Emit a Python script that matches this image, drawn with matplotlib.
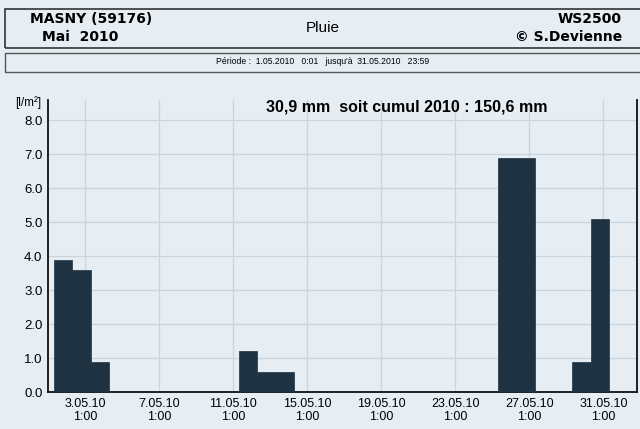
import numpy as np
import matplotlib
matplotlib.use('Agg')
from matplotlib import pyplot as plt
from matplotlib.patches import Rectangle

# daily rain, May 2010
days = [1, 2, 3, 11, 12, 13, 25, 26, 29, 30]
rain = [3.9, 3.6, 0.9, 1.2, 0.6, 0.6, 6.9, 6.9, 0.9, 5.1]
tick_days = [3, 7, 11, 15, 19, 23, 27, 31]
tick_labels = ['%d.05.10\n1:00' % d for d in tick_days]
y_ticks = [0, 1, 2, 3, 4, 5, 6, 7, 8]

bg = '#e6eef4'
bar_col = '#1e3242'
grid_col = '#c9d5de'

plt.rcParams['font.family'] = ['Liberation Sans', 'DejaVu Sans']

fig = plt.figure(figsize=(6.4, 4.29), dpi=100, facecolor=bg)
ax = fig.add_axes([0.075, 0.086, 0.92, 0.681])
ax.set_facecolor(bg)

ax.bar([d + 0.3 for d in days], rain, width=1.0, align='edge',
       color=bar_col, edgecolor=bar_col, linewidth=0.5, zorder=3)

ax.set_xlim(1.0, 32.8)
ax.set_ylim(0, 8.6)
ax.set_xticks(tick_days)
ax.set_xticklabels(tick_labels, fontsize=9)
ax.set_yticks(y_ticks)
ax.set_yticklabels(['%.1f' % v for v in y_ticks], fontsize=9.5)
ax.tick_params(axis='both', length=0, pad=4)
ax.grid(True, color=grid_col, linewidth=0.9, zorder=0)
ax.spines['top'].set_visible(False)
for s in ['left', 'bottom', 'right']:
    ax.spines[s].set_color('#111111')
    ax.spines[s].set_linewidth(1.3)

fig.text(0.023, 0.762, '[l/m²]', fontsize=8.5, ha='left', va='center')
fig.text(407 / 640, 0.751, '30,9 mm  soit cumul 2010 : 150,6 mm',
         fontsize=11.5, fontweight='bold', ha='center', va='center')

# header boxes
fig.patches.append(Rectangle((5 / 640, 1 - 48 / 429), 1.0, 38.5 / 429,
                             transform=fig.transFigure, fill=False,
                             edgecolor='#333333', linewidth=1.2))
fig.patches.append(Rectangle((5 / 640, 1 - 72 / 429), 1.0, 19 / 429,
                             transform=fig.transFigure, fill=False,
                             edgecolor='#555555', linewidth=1.0))

fig.text(30 / 640, 1 - 19 / 429, 'MASNY (59176)', fontsize=10,
         fontweight='bold', ha='left', va='center', family='DejaVu Sans')
fig.text(42 / 640, 1 - 37 / 429, 'Mai  2010', fontsize=10,
         fontweight='bold', ha='left', va='center', family='DejaVu Sans')
fig.text(323 / 640, 1 - 28 / 429, 'Pluie', fontsize=11,
         ha='center', va='center')
fig.text(622 / 640, 1 - 19 / 429, 'WS2500', fontsize=10,
         fontweight='bold', ha='right', va='center', family='DejaVu Sans')
fig.text(622 / 640, 1 - 37 / 429, '© S.Devienne', fontsize=10,
         fontweight='bold', ha='right', va='center', family='DejaVu Sans')
fig.text(323 / 640, 1 - 62 / 429,
         'Période :  1.05.2010   0:01   jusqu\'à  31.05.2010   23:59',
         fontsize=6.2, ha='center', va='center')

fig.savefig('out.png', dpi=100, facecolor=bg)
